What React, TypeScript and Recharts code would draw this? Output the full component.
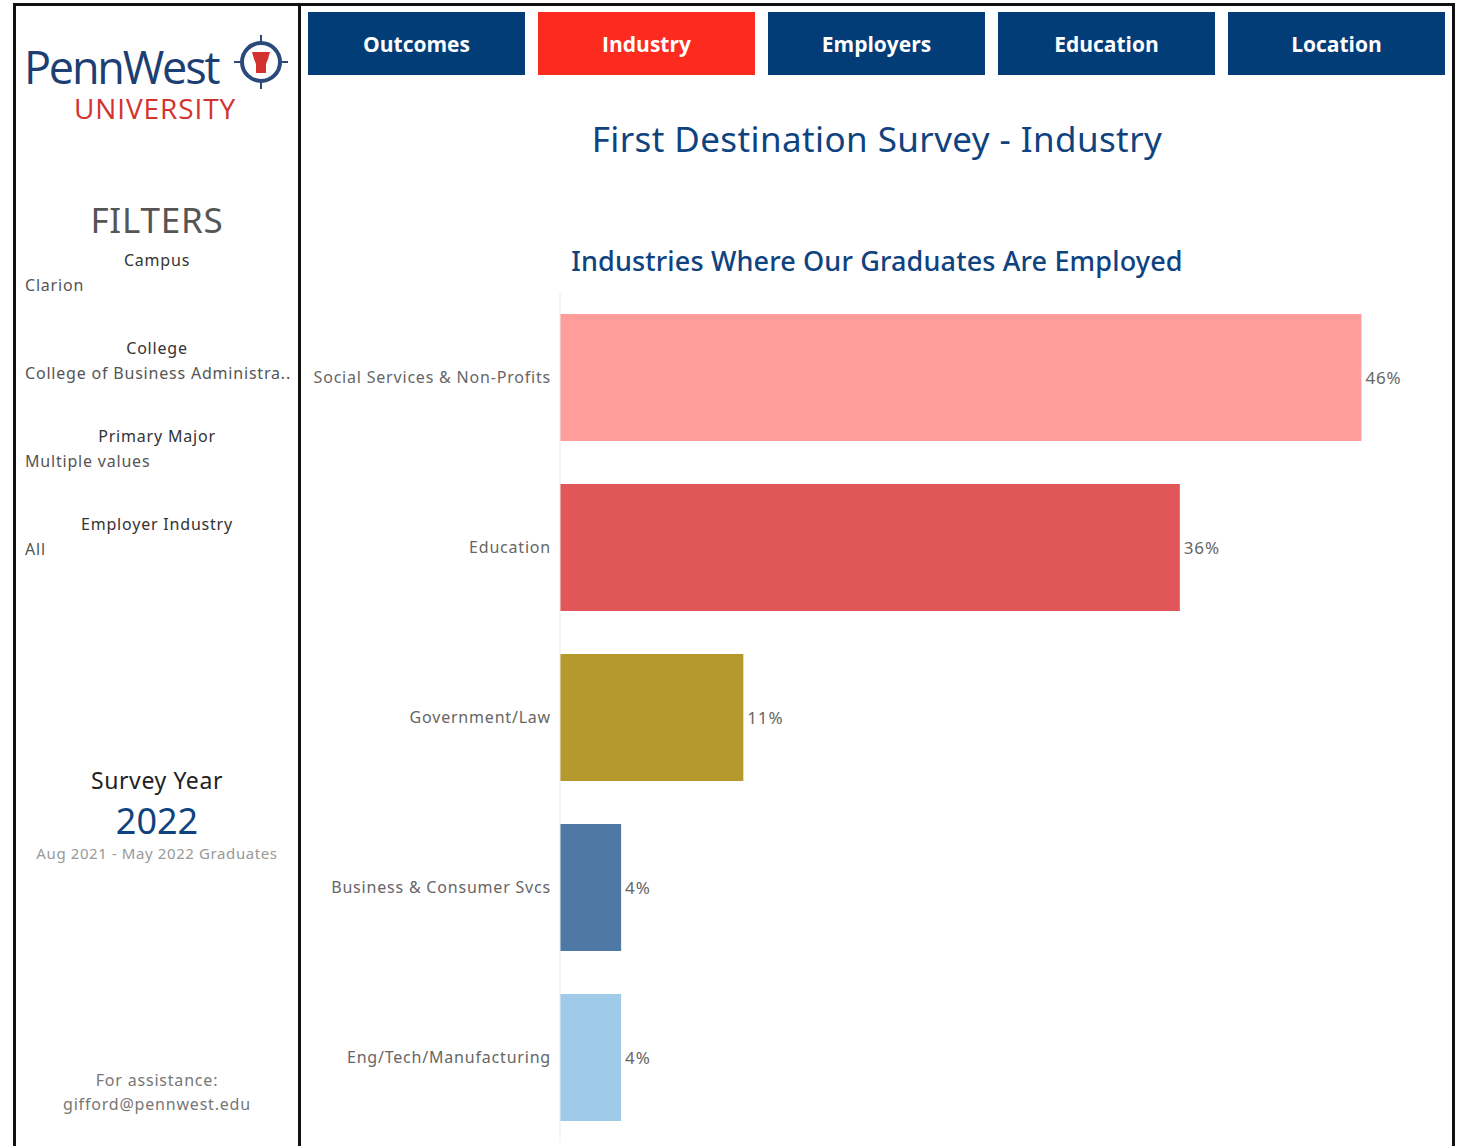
import { BarChart, Bar, XAxis, YAxis, Cell, LabelList } from "recharts";

// Tableau "First Destination Survey" dashboard, Industry tab.
const industries = [
  "Social Services & Non-Profits",
  "Education",
  "Government/Law",
  "Business & Consumer Svcs",
  "Eng/Tech/Manufacturing",
];
const shares = [45.9, 35.5, 10.5, 3.5, 3.5];
const barColors = ["#ff9d9a", "#e15759", "#b6992d", "#4e79a7", "#a0cbe8"];

const tabs = ["Outcomes", "Industry", "Employers", "Education", "Location"];
const activeTab = "Industry";

const filters = [
  { name: "Campus", value: "Clarion" },
  { name: "College", value: "College of Business Administra.." },
  { name: "Primary Major", value: "Multiple values" },
  { name: "Employer Industry", value: "All" },
];

const data = industries.map((name, i) => ({ name, pct: shares[i] }));

const NAVY = "#0f4380";
const FONT = "'Noto Sans', 'Open Sans', sans-serif";
const SP = "0.8px";

function Logo() {
  return (
    <svg width={280} height={100} style={{ position: "absolute", left: 18, top: 28 }}>
      <text x={6} y={56} fontFamily="'Open Sans', sans-serif" fontSize={45} fill="#1d3e72" letterSpacing={-2.2}>
        PennWest
      </text>
      <g transform="translate(243,34)">
        <circle r={19} fill="none" stroke="#2a4a7a" strokeWidth={4} />
        <line x1={0} y1={-27} x2={0} y2={-20} stroke="#2a4a7a" strokeWidth={2} />
        <line x1={0} y1={20} x2={0} y2={27} stroke="#2a4a7a" strokeWidth={2} />
        <line x1={-27} y1={0} x2={-20} y2={0} stroke="#2a4a7a" strokeWidth={2} />
        <line x1={20} y1={0} x2={27} y2={0} stroke="#2a4a7a" strokeWidth={2} />
        <path d="M-9,-10 L9,-10 L7,-3 L5,2 L5,11 L-5,11 L-5,2 L-7,-3 Z" fill="#d3332f" />
      </g>
      <text x={56} y={91} fontFamily="'Open Sans', sans-serif" fontSize={28} fill="#d3332f" letterSpacing={0.9}>
        UNIVERSITY
      </text>
    </svg>
  );
}

function Sidebar() {
  const label = {
    position: "absolute" as const,
    left: 15,
    width: 284,
    textAlign: "center" as const,
    letterSpacing: SP,
  };
  return (
    <>
      <Logo />
      <div style={{ ...label, top: 196, fontSize: 35, color: "#555" }}>FILTERS</div>
      {filters.map((f, i) => (
        <div key={f.name}>
          <div style={{ ...label, top: 249 + i * 88, fontSize: 16, color: "#333" }}>{f.name}</div>
          <div
            style={{
              position: "absolute",
              left: 25,
              top: 274 + i * 88,
              fontSize: 16,
              color: "#555",
              whiteSpace: "nowrap",
              letterSpacing: SP,
            }}
          >
            {f.value}
          </div>
        </div>
      ))}
      <div style={{ ...label, top: 764, fontSize: 23, color: "#222", letterSpacing: "0.6px" }}>Survey Year</div>
      <div style={{ ...label, top: 796, fontSize: 36, color: NAVY, letterSpacing: 0 }}>2022</div>
      <div style={{ ...label, top: 843, fontSize: 15, color: "#999", letterSpacing: "0.6px" }}>
        Aug 2021 - May 2022 Graduates
      </div>
      <div style={{ ...label, top: 1069, fontSize: 16, color: "#777" }}>For assistance:</div>
      <div style={{ ...label, top: 1093, fontSize: 16, color: "#777" }}>gifford@pennwest.edu</div>
    </>
  );
}

function Tabs() {
  return (
    <>
      {tabs.map((t, i) => (
        <div
          key={t}
          style={{
            position: "absolute",
            left: 308 + i * 230,
            top: 12,
            width: 217,
            height: 63,
            background: t === activeTab ? "#fc2a1f" : "#033d78",
            color: "#fff",
            fontFamily: "'Open Sans', sans-serif",
            fontWeight: 700,
            fontSize: 21,
            display: "flex",
            alignItems: "center",
            justifyContent: "center",
          }}
        >
          {t}
        </div>
      ))}
    </>
  );
}

export default function App() {
  return (
    <div
      style={{
        position: "absolute",
        left: 0,
        top: 0,
        width: 1460,
        height: 1146,
        overflow: "hidden",
        background: "#fff",
        fontFamily: FONT,
      }}
    >
      {/* frame lines */}
      <div
        style={{
          position: "absolute",
          left: 13,
          top: 3,
          width: 1442,
          height: 1160,
          border: "3px solid #111",
          boxSizing: "border-box",
        }}
      />
      <div style={{ position: "absolute", left: 298, top: 3, width: 3, height: 1150, background: "#111" }} />

      <Sidebar />
      <Tabs />

      <div
        style={{
          position: "absolute",
          left: 302,
          width: 1150,
          top: 115,
          textAlign: "center",
          fontSize: 35,
          letterSpacing: "0.4px",
          color: NAVY,
        }}
      >
        First Destination Survey - Industry
      </div>
      <div
        style={{
          position: "absolute",
          left: 302,
          width: 1150,
          top: 242,
          textAlign: "center",
          fontSize: 27,
          fontWeight: 500,
          letterSpacing: "0.15px",
          color: NAVY,
        }}
      >
        Industries Where Our Graduates Are Employed
      </div>

      <div style={{ position: "absolute", left: 302, top: 290 }}>
        <BarChart
          layout="vertical"
          width={1148}
          height={856}
          data={data}
          margin={{ top: 2, right: 17, bottom: 4, left: 0 }}
        >
          <XAxis
            type="number"
            domain={[0, 50]}
            allowDataOverflow
            tick={false}
            tickLine={false}
            axisLine={{ stroke: "#ececec" }}
            height={0}
          />
          <YAxis
            type="category"
            dataKey="name"
            width={258}
            tickLine={false}
            tickSize={0}
            tickMargin={9}
            axisLine={{ stroke: "#ececec" }}
            tick={{ fontSize: 16, fill: "#666", fontFamily: FONT, letterSpacing: SP }}
          />
          <Bar dataKey="pct" barSize={127} isAnimationActive={false}>
            {data.map((d, i) => (
              <Cell key={d.name} fill={barColors[i]} />
            ))}
            <LabelList
              dataKey="pct"
              position="right"
              offset={4}
              formatter={(v: number) => `${Math.round(v)}%`}
              style={{ fontSize: 17, fill: "#666", fontFamily: FONT, letterSpacing: "0.8px" }}
            />
          </Bar>
        </BarChart>
      </div>
    </div>
  );
}
